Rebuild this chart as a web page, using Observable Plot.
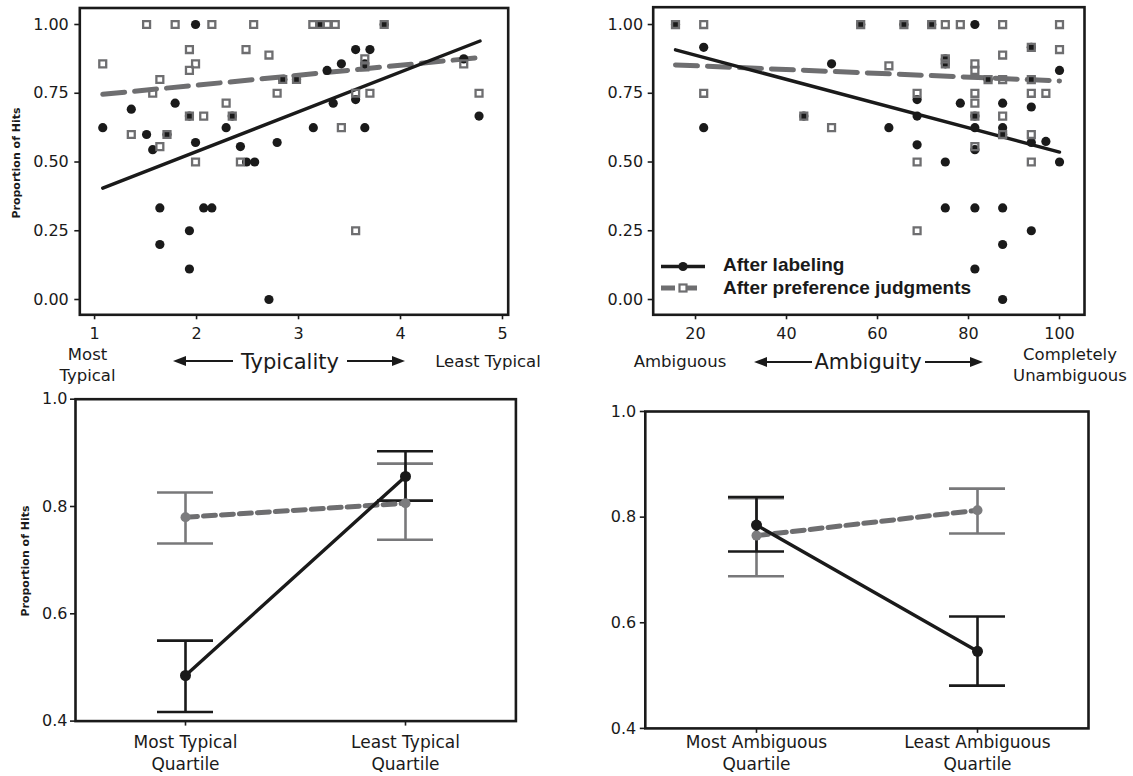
<!DOCTYPE html>
<html><head><meta charset="utf-8">
<script src="https://cdn.jsdelivr.net/npm/d3@7"></script>
<script src="https://cdn.jsdelivr.net/npm/@observablehq/plot@0.6"></script>
<style>
body{margin:0;background:#fff;}
#wrap{position:relative;width:1133px;height:776px;overflow:hidden;font-family:"DejaVu Sans",sans-serif;color:#1a1a1a;background:#fff;}
.lbl{position:absolute;white-space:nowrap;transform:translate(-50%,-50%);font-size:16.5px;line-height:1;}
.big{font-size:21px;}
.ylab{position:absolute;white-space:nowrap;transform:translate(-50%,-50%) rotate(-90deg);font-size:11px;font-weight:bold;line-height:1;}
.leg{position:absolute;white-space:nowrap;transform:translateY(-50%);font-family:"Liberation Sans",Arial,sans-serif;font-weight:bold;font-size:19px;line-height:1;}
svg.overlay{position:absolute;left:0;top:0;pointer-events:none;}
</style></head><body><div id="wrap"></div>
<script>
// ---------- data ----------
// Top-left: typicality (1 = most typical ... 5 = least typical) vs proportion of hits
const typLabeling = [[1.08,0.625],[1.36,0.692],[1.51,0.6],[1.57,0.545],[1.64,0.333],[1.64,0.2],[1.71,0.6],[1.79,0.714],[1.93,0.25],[1.93,0.111],[1.93,0.667],[1.99,1.0],[1.99,0.571],[2.07,0.333],[2.15,0.333],[2.29,0.625],[2.35,0.667],[2.43,0.556],[2.49,0.5],[2.57,0.5],[2.71,0.0],[2.79,0.571],[2.845,0.8],[2.98,0.8],[3.145,0.625],[3.21,1.0],[3.28,0.833],[3.34,0.714],[3.42,0.857],[3.56,0.909],[3.56,0.727],[3.65,0.625],[3.65,0.857],[3.70,0.909],[3.84,1.0],[4.62,0.875],[4.77,0.667]];
const typPreference = [[1.08,0.857],[1.36,0.6],[1.51,1.0],[1.57,0.75],[1.64,0.8],[1.64,0.556],[1.71,0.6],[1.79,1.0],[1.93,0.909],[1.93,0.833],[1.93,0.667],[1.99,0.857],[1.99,0.5],[2.07,0.667],[2.15,1.0],[2.29,0.714],[2.35,0.667],[2.43,0.5],[2.485,0.909],[2.56,1.0],[2.71,0.889],[2.79,0.75],[2.845,0.8],[2.98,0.8],[3.14,1.0],[3.21,1.0],[3.28,1.0],[3.36,1.0],[3.42,0.625],[3.56,0.75],[3.56,0.25],[3.65,0.875],[3.65,0.846],[3.70,0.75],[3.84,1.0],[4.62,0.857],[4.77,0.75]];
const typFitLabeling = [[1.08,0.405],[4.78,0.94]];
const typFitPreference = [[1.08,0.746],[4.78,0.88]];

// Top-right: ambiguity (% agreement) vs proportion of hits
const ambLabeling = [[15.6,1.0],[21.8,0.917],[21.8,0.625],[43.8,0.667],[49.9,0.857],[56.3,1.0],[62.5,0.625],[65.8,1.0],[68.7,0.727],[68.7,0.667],[68.7,0.5625],[71.9,1.0],[74.9,0.875],[74.9,0.857],[74.9,0.5],[74.9,0.333],[78.2,0.714],[81.4,1.0],[81.4,0.667],[81.4,0.625],[81.4,0.545],[81.4,0.333],[81.4,0.111],[84.3,0.8],[87.5,0.714],[87.5,0.625],[87.5,0.6],[87.5,0.333],[87.5,0.2],[87.5,0.0],[93.8,0.917],[93.8,0.8],[93.8,0.7],[93.8,0.571],[93.8,0.25],[97.0,0.575],[100,0.833],[100,0.5]];
const ambPreference = [[15.6,1.0],[21.8,1.0],[21.8,0.75],[43.8,0.667],[49.9,0.625],[56.3,1.0],[62.5,0.85],[65.8,1.0],[68.7,0.75],[68.7,0.5],[68.7,0.25],[71.9,1.0],[74.9,1.0],[74.9,0.875],[74.9,0.857],[78.2,1.0],[81.4,0.857],[81.4,0.833],[81.4,0.75],[81.4,0.714],[81.4,0.667],[81.4,0.556],[84.3,0.8],[87.5,1.0],[87.5,0.889],[87.5,0.8],[87.5,0.667],[87.5,0.6],[93.8,0.917],[93.8,0.8],[93.8,0.75],[93.8,0.6],[93.8,0.5],[97.0,0.75],[100,1.0],[100,0.909]];
const ambFitLabeling = [[15.6,0.908],[100,0.536]];
const ambFitPreference = [[15.6,0.853],[100,0.795]];

// Bottom: quartile means with error bars
const typQuartiles = ["Most Typical","Least Typical"];
const ambQuartiles = ["Most Ambiguous","Least Ambiguous"];
const typQLabelMean = [0.485, 0.856], typQLabelLo = [0.417, 0.811], typQLabelHi = [0.550, 0.903];
const typQPrefMean  = [0.780, 0.806], typQPrefLo  = [0.731, 0.738], typQPrefHi  = [0.826, 0.880];
const ambQLabelMean = [0.785, 0.546], ambQLabelLo = [0.735, 0.481], ambQLabelHi = [0.838, 0.612];
const ambQPrefMean  = [0.765, 0.813], ambQPrefLo  = [0.688, 0.769], ambQPrefHi  = [0.836, 0.854];

// tick labels
const typTicks = [1,2,3,4,5];
const ambTicks = [20,40,60,80,100];
const propTicks = [0,0.25,0.5,0.75,1];
const quartTicks = [0.4,0.6,0.8,1.0];

// ---------- drawing ----------
const BLACK = "#1a1a1a", GRAY = "#6e6e70", GRAYBAR = "#78787a";
const wrap = document.getElementById("wrap");
const baseStyle = {fontFamily:"DejaVu Sans, sans-serif", fontSize:"16px", color:BLACK, background:"transparent", overflow:"visible"};

function place(el, left, top){ el.style.position="absolute"; el.style.left=left+"px"; el.style.top=top+"px"; wrap.appendChild(el); }

function scatter(o){
  return Plot.plot({
    width:o.width, height:o.height,
    marginLeft:o.ml, marginRight:o.mr, marginTop:o.mt, marginBottom:o.mb,
    style:baseStyle,
    x:{domain:o.xDomain},
    y:{domain:o.yDomain},
    marks:[
      Plot.line(o.fitP, {stroke:GRAY, strokeWidth:5, strokeDasharray:"22,10"}),
      Plot.line(o.fitL, {stroke:BLACK, strokeWidth:3.4}),
      Plot.dot(o.lab, {x:d=>d[0], y:d=>d[1], r:4.6, fill:BLACK, stroke:null}),
      Plot.dot(o.pref, {x:d=>d[0], y:d=>d[1], symbol:"square", r:3.9, stroke:GRAY, strokeWidth:2.3, fill:"none"}),
      Plot.frame({stroke:BLACK, strokeWidth:2.6}),
      Plot.axisX({ticks:o.xTicks, tickFormat:d=>String(d), tickSize:5, tickPadding:8, strokeWidth:1.6, label:null, fontSize:16}),
      Plot.axisY({ticks:propTicks, tickFormat:d3.format(".2f"), tickSize:5, tickPadding:o.tpy, strokeWidth:1.6, label:null, fontSize:16})
    ]
  });
}

function quartile(o){
  const W = o.width - o.ml - o.mr;
  const step = W/2, pin = 1 - 56/step;
  const lab = o.cats.map((q,i)=>({q, mean:o.lm[i], lo:o.llo[i], hi:o.lhi[i]}));
  const pref = o.cats.map((q,i)=>({q, mean:o.pm[i], lo:o.plo[i], hi:o.phi[i]}));
  return Plot.plot({
    width:o.width, height:o.height,
    marginLeft:o.ml, marginRight:o.mr, marginTop:o.mt, marginBottom:o.mb,
    style:baseStyle,
    x:{type:"band", domain:o.cats, paddingInner:pin, paddingOuter:pin/2},
    y:{domain:[0.4,1.0]},
    marks:[
      Plot.ruleX(pref, {x:"q", y1:"lo", y2:"hi", stroke:GRAYBAR, strokeWidth:2.6}),
      Plot.tickY(pref, {x:"q", y:"lo", stroke:GRAYBAR, strokeWidth:2.6}),
      Plot.tickY(pref, {x:"q", y:"hi", stroke:GRAYBAR, strokeWidth:2.6}),
      Plot.ruleX(lab, {x:"q", y1:"lo", y2:"hi", stroke:BLACK, strokeWidth:2.6}),
      Plot.tickY(lab, {x:"q", y:"lo", stroke:BLACK, strokeWidth:2.6}),
      Plot.tickY(lab, {x:"q", y:"hi", stroke:BLACK, strokeWidth:2.6}),
      Plot.line(pref, {x:"q", y:"mean", stroke:GRAY, strokeWidth:5, strokeDasharray:"12,6"}),
      Plot.line(lab, {x:"q", y:"mean", stroke:BLACK, strokeWidth:3.4}),
      Plot.dot(pref, {x:"q", y:"mean", r:5, fill:"#7c7c7e", stroke:null}),
      Plot.dot(lab, {x:"q", y:"mean", r:5.5, fill:BLACK, stroke:null}),
      Plot.frame({stroke:BLACK, strokeWidth:2.6}),
      Plot.axisX({tickSize:5, tickPadding:o.tpx, strokeWidth:1.6, label:null, fontSize:17, lineHeight:1.3, tickFormat:d=>d+"\nQuartile"}),
      Plot.axisY({ticks:quartTicks, tickFormat:d3.format(".1f"), tickSize:5, tickPadding:o.tpy, strokeWidth:1.6, label:null, fontSize:16})
    ]
  });
}

place(scatter({width:560, height:345, ml:79.3, mr:52.3, mt:7.5, mb:30.7, xDomain:[0.855,5.056], yDomain:[-0.0556,1.06], xTicks:typTicks, lab:typLabeling, pref:typPreference, fitL:typFitLabeling, fitP:typFitPreference, tpy:6}), 0, 0);
place(scatter({width:573, height:345, ml:92.7, mr:49, mt:6.7, mb:30.7, xDomain:[10.70,105.49], yDomain:[-0.0556,1.063], xTicks:ambTicks, lab:ambLabeling, pref:ambPreference, fitL:ambFitLabeling, fitP:ambFitPreference, tpy:5}), 560, 0);
place(quartile({width:560, height:391, ml:75, mr:44.6, mt:13.7, mb:55.4, cats:typQuartiles, lm:typQLabelMean, llo:typQLabelLo, lhi:typQLabelHi, pm:typQPrefMean, plo:typQPrefLo, phi:typQPrefHi, tpx:6, tpy:3}), 0, 385);
place(quartile({width:573, height:391, ml:84.8, mr:45, mt:26, mb:48.1, cats:ambQuartiles, lm:ambQLabelMean, llo:ambQLabelLo, lhi:ambQLabelHi, pm:ambQPrefMean, plo:ambQPrefLo, phi:ambQPrefHi, tpx:-1, tpy:4}), 560, 385);

// ---------- annotations ----------
function label(text, x, y, cls){ const d=document.createElement("div"); d.className=cls||"lbl"; d.textContent=text; d.style.left=x+"px"; d.style.top=y+"px"; wrap.appendChild(d); return d; }
label("Proportion of Hits", 16, 163, "ylab");
label("Proportion of Hits", 25, 561, "ylab");
label("Most", 87.5, 354.5); label("Typical", 87.5, 375.5);
label("Typicality", 290, 362, "lbl big");
label("Least Typical", 488, 362);
label("Ambiguous", 680, 362);
label("Ambiguity", 868, 362, "lbl big");
label("Completely", 1070, 354.5); label("Unambiguous", 1070, 375.5);
label("After labeling", 723, 264, "leg");
label("After preference judgments", 723, 287, "leg");

// arrows and legend swatches (decoration)
const ns="http://www.w3.org/2000/svg";
const ov=document.createElementNS(ns,"svg"); ov.setAttribute("class","overlay"); ov.setAttribute("width",1133); ov.setAttribute("height",776);
function el(tag, attrs){ const e=document.createElementNS(ns,tag); for(const k in attrs) e.setAttribute(k, attrs[k]); ov.appendChild(e); return e; }
function arrow(x1,x2,y,headAt){
  const hl=13, hh=5;
  if(headAt==="left"){ el("line",{x1:x1+hl-1,x2:x2,y1:y,y2:y,stroke:BLACK,"stroke-width":2.2}); el("path",{d:`M${x1},${y}L${x1+hl},${y-hh}L${x1+hl},${y+hh}Z`,fill:BLACK}); }
  else { el("line",{x1:x1,x2:x2-hl+1,y1:y,y2:y,stroke:BLACK,"stroke-width":2.2}); el("path",{d:`M${x2},${y}L${x2-hl},${y-hh}L${x2-hl},${y+hh}Z`,fill:BLACK}); }
}
arrow(173,233,361,"left"); arrow(347,405,361,"right");
arrow(754,812,362,"left"); arrow(925,983,362,"right");
el("line",{x1:661,x2:705,y1:266.5,y2:266.5,stroke:BLACK,"stroke-width":3.4});
el("circle",{cx:683,cy:266.5,r:4.6,fill:BLACK});
el("line",{x1:661,x2:705,y1:288,y2:288,stroke:GRAY,"stroke-width":5,"stroke-dasharray":"14,8"});
el("rect",{x:679.5,y:284.5,width:7,height:7,fill:"#fff",stroke:GRAY,"stroke-width":2.2});
wrap.appendChild(ov);
</script></body></html>
